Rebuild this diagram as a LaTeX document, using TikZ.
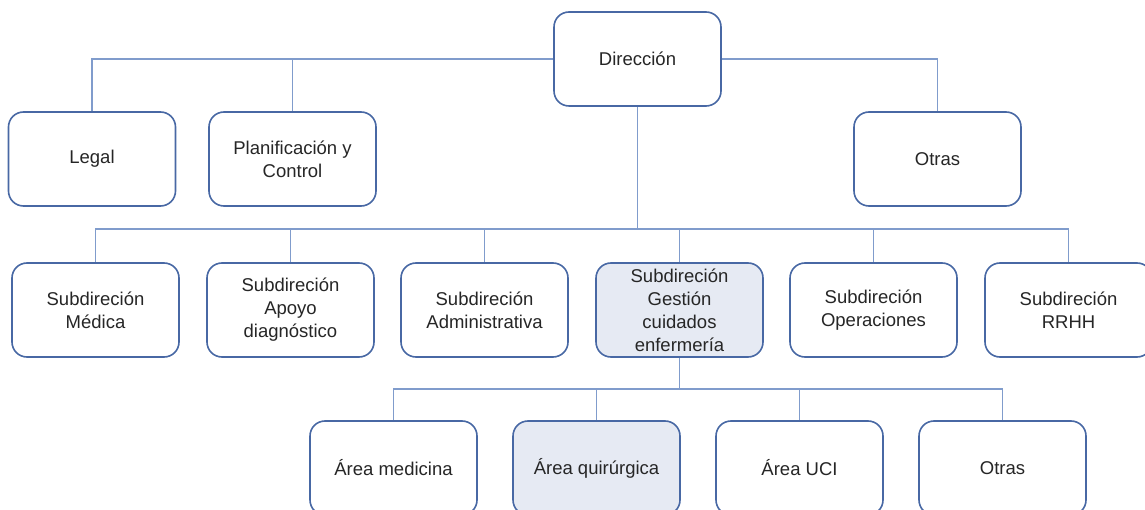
\documentclass[tikz,border=0pt]{standalone}
\usepackage{fontspec}
\setmainfont{Liberation Sans}
\begin{document}
\begin{tikzpicture}[x=1pt,y=-1pt,
  unit/.style={draw=boxblue, line width=1.6pt, rounded corners=15pt, fill=white,
    minimum width=167pt, minimum height=94pt, inner sep=2pt, align=center,
    font=\fontsize{18.5}{23}\selectfont, text=black!85},
  focus/.style={unit, fill=focusfill},
  link/.style={draw=linkblue, line width=1.2pt}]
\definecolor{boxblue}{RGB}{72,104,164}
\definecolor{linkblue}{RGB}{128,156,204}
\definecolor{focusfill}{RGB}{230,234,243}
\useasboundingbox (0,0) rectangle (1145,510);

% top level
\node[unit] (dir) at (637.5,59) {Dirección};
\node[unit] (legal) at (92,159) {Legal};
\node[unit] (plan) at (292.5,159) {Planificación y\\Control};
\node[unit] (otras) at (937.5,159) {Otras};

% subdirections
\node[unit] (med) at (95.5,310) {Subdireción\\Médica};
\node[unit] (apoyo) at (290.5,310) {Subdireción\\Apoyo\\diagnóstico};
\node[unit] (adm) at (484.5,310) {Subdireción\\Administrativa};
\node[focus] (gest) at (679.5,310) {Subdireción\\Gestión\\cuidados\\enfermería};
\node[unit] (oper) at (873.5,310) {Subdireción\\Operaciones};
\node[unit] (rrhh) at (1068.5,310) {Subdireción\\RRHH};

% nursing areas
\node[unit] (amed) at (393.5,468) {Área medicina};
\node[focus] (aqui) at (596.5,468) {Área quirúrgica};
\node[unit] (auci) at (799.5,468) {Área UCI};
\node[unit] (aotr) at (1002.5,468) {Otras};

% staff units beside the direction
\draw[link] (dir.west) -| (legal.north);
\draw[link] (plan.north) -- (plan.north |- dir.west);
\draw[link] (dir.east) -| (otras.north);

% bus to the subdirections
\coordinate (bus1) at (637.5,229);
\draw[link] (dir.south) -- (bus1);
\foreach \n in {med,apoyo,adm,gest,oper,rrhh}
  \draw[link] (\n.north) |- (bus1);

% bus to the nursing areas
\coordinate (bus2) at (679.5,389);
\draw[link] (gest.south) -- (bus2);
\foreach \n in {amed,aqui,auci,aotr}
  \draw[link] (\n.north) |- (bus2);
\end{tikzpicture}
\end{document}
